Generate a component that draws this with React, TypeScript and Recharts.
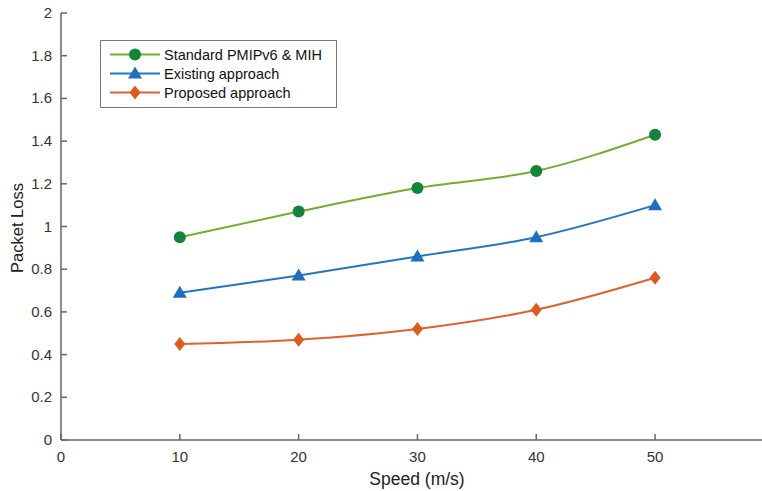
import { Line, LineChart, XAxis, YAxis } from "recharts";

const speeds = [10, 20, 30, 40, 50];
const standard = [0.95, 1.07, 1.18, 1.26, 1.43];
const existing = [0.69, 0.77, 0.86, 0.95, 1.1];
const proposed = [0.45, 0.47, 0.52, 0.61, 0.76];
const xTicks = [0, 10, 20, 30, 40, 50];
const yTicks = [0, 0.2, 0.4, 0.6, 0.8, 1, 1.2, 1.4, 1.6, 1.8, 2];

const names = ["Standard PMIPv6 & MIH", "Existing approach", "Proposed approach"];
const lineColors = ["#77ac30", "#1f77c4", "#e0622a"];
const markColors = ["#13843a", "#1f6fbf", "#df5a1f"];

const data = speeds.map((s, i) => ({
  speed: s,
  standard: standard[i],
  existing: existing[i],
  proposed: proposed[i],
}));

const FONT = "'Liberation Sans', Arial, sans-serif";
const AXIS = "#666";

function Marker({ kind, cx, cy, color }: { kind: number; cx: number; cy: number; color: string }) {
  if (kind === 0) return <circle cx={cx} cy={cy} r={6} fill={color} />;
  if (kind === 1)
    return <polygon points={`${cx},${cy - 7} ${cx + 7},${cy + 5} ${cx - 7},${cy + 5}`} fill={color} />;
  return <polygon points={`${cx},${cy - 7} ${cx + 5.5},${cy} ${cx},${cy + 7} ${cx - 5.5},${cy}`} fill={color} />;
}

const dotFor = (kind: number) => (p: any) =>
  <Marker key={`${kind}-${p.index}`} kind={kind} cx={p.cx} cy={p.cy} color={markColors[kind]} />;

function XTick({ x, y, payload }: any) {
  return (
    <g>
      <line x1={x} x2={x} y1={y - 8} y2={y - 14} stroke={AXIS} strokeWidth={1.5} />
      <text x={x} y={y + 14} textAnchor="middle" fontSize={15} fill="#333" fontFamily={FONT}>
        {payload.value}
      </text>
    </g>
  );
}

function YTick({ x, y, payload }: any) {
  return (
    <g>
      <line x1={x + 8} x2={x + 14} y1={y} y2={y} stroke={AXIS} strokeWidth={1.5} />
      <text x={x - 1} y={y + 5} textAnchor="end" fontSize={15} fill="#333" fontFamily={FONT}>
        {payload.value}
      </text>
    </g>
  );
}

function LegendBox() {
  return (
    <div
      style={{
        position: "absolute",
        left: 100,
        top: 40,
        width: 226,
        height: 62,
        border: "1.5px solid #777",
        background: "#fff",
        padding: "4px 0 0 9px",
        boxSizing: "content-box",
        fontFamily: FONT,
        fontSize: 14.5,
        color: "#111",
      }}
    >
      {names.map((n, i) => (
        <div key={n} style={{ display: "flex", alignItems: "center", height: 19 }}>
          <svg width={50} height={19}>
            <line x1={0} x2={50} y1={9.5} y2={9.5} stroke={lineColors[i]} strokeWidth={2} />
            <Marker kind={i} cx={25} cy={9.5} color={markColors[i]} />
          </svg>
          <span style={{ marginLeft: 4 }}>{n}</span>
        </div>
      ))}
    </div>
  );
}

export default function App() {
  return (
    <div style={{ position: "absolute", left: 0, top: 0, width: 762, height: 491, background: "#fff" }}>
      <LineChart width={762} height={491} data={data} margin={{ top: 13, right: 0, left: 0, bottom: 20 }}>
        <XAxis
          dataKey="speed"
          type="number"
          domain={[0, 59]}
          ticks={xTicks}
          allowDataOverflow
          height={31}
          tick={<XTick />}
          tickLine={false}
          axisLine={{ stroke: AXIS, strokeWidth: 1.5 }}
        />
        <YAxis
          type="number"
          domain={[0, 2]}
          ticks={yTicks}
          width={61}
          tick={<YTick />}
          tickLine={false}
          axisLine={{ stroke: AXIS, strokeWidth: 1.5 }}
        />
        <Line type="monotone" dataKey="standard" name={names[0]} stroke={lineColors[0]} strokeWidth={2} dot={dotFor(0)} activeDot={false} isAnimationActive={false} />
        <Line type="monotone" dataKey="existing" name={names[1]} stroke={lineColors[1]} strokeWidth={2} dot={dotFor(1)} activeDot={false} isAnimationActive={false} />
        <Line type="monotone" dataKey="proposed" name={names[2]} stroke={lineColors[2]} strokeWidth={2} dot={dotFor(2)} activeDot={false} isAnimationActive={false} />
      </LineChart>
      <div
        style={{
          position: "absolute",
          left: 417,
          top: 479,
          transform: "translate(-50%, -50%)",
          whiteSpace: "nowrap",
          fontFamily: FONT,
          fontSize: 17.5,
          color: "#222",
        }}
      >
        Speed (m/s)
      </div>
      <div
        style={{
          position: "absolute",
          left: 17,
          top: 228,
          transform: "translate(-50%, -50%) rotate(-90deg)",
          whiteSpace: "nowrap",
          fontFamily: FONT,
          fontSize: 16.5,
          color: "#222",
        }}
      >
        Packet Loss
      </div>
      <LegendBox />
    </div>
  );
}
